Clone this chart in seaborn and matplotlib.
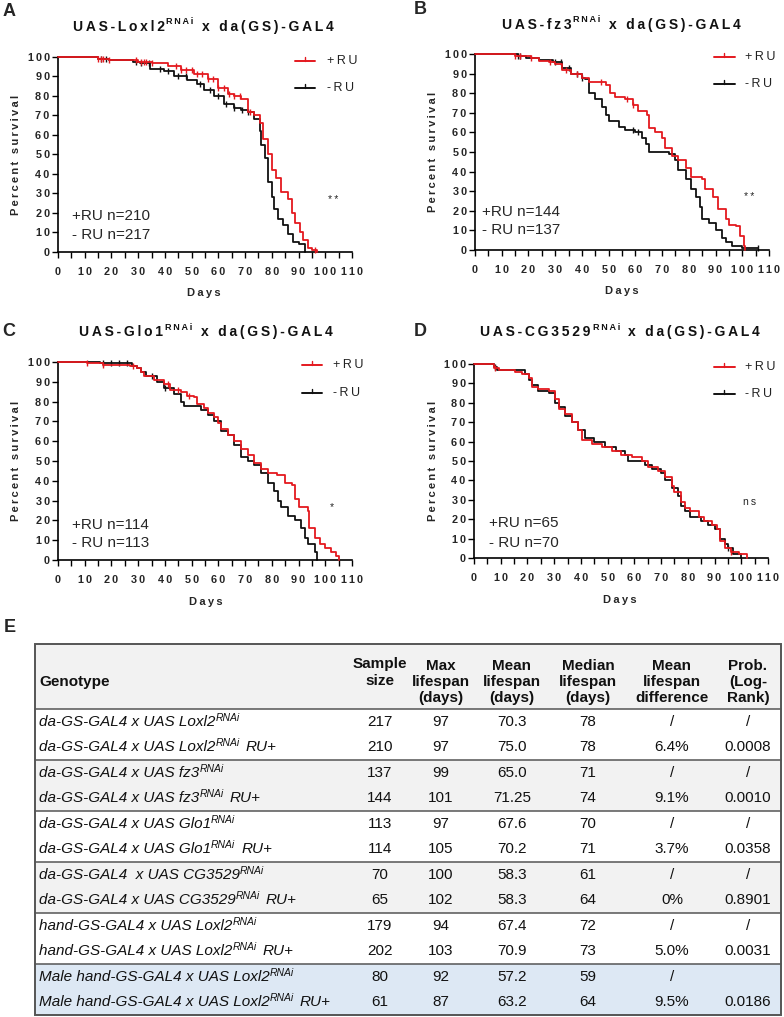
import numpy as np
import pandas as pd
import matplotlib
matplotlib.use('Agg')
import matplotlib.pyplot as plt
import seaborn as sns
from matplotlib.lines import Line2D
from matplotlib.patches import Rectangle

# ---------------- data ----------------
genes = ['Loxl2', 'fz3', 'Glo1', 'CG3529']
n_plus = [210, 144, 114, 65]
n_minus = [217, 137, 113, 70]
sig_labels = ['**', '**', '*', 'ns']

A_red_days = [0, 15, 19, 30, 35, 41, 46, 51, 56, 60, 63.5, 66, 68.5, 71, 73.5, 75.4, 76.7, 78.6, 80, 81.7, 83.6, 86, 87.4, 88.6, 90.5, 91.8, 93.7, 95, 97]
A_red_surv = [100, 99, 98.5, 97.5, 97, 95.5, 93.5, 91.5, 88.5, 84, 81, 80, 78.5, 72, 70, 66, 58, 50, 42, 38, 31, 27, 20, 15, 10, 6, 2, 1, 0]
A_black_days = [0, 15, 19, 28, 30.8, 34.6, 39.6, 43.4, 48.4, 52, 54.7, 58.5, 62, 66, 68.5, 71, 73.5, 75.4, 76, 77.3, 78.6, 80, 81, 82.3, 84, 86, 88, 90, 92.4]
A_black_surv = [100, 99, 98.5, 97.5, 97, 94, 93, 90, 88, 86, 83, 80, 76, 74, 73, 72, 68, 62, 55, 48, 36, 28, 22, 17, 14, 9, 5, 4, 0]
A_red_cens = [15, 16, 17, 19, 29, 31, 32, 33, 35, 44, 46, 48, 50, 52, 54, 56, 58, 60, 62, 64, 66, 68, 72, 96]
A_black_cens = [16, 18, 29, 31, 34, 38, 41, 45, 48, 53, 57, 60, 63, 66, 69, 71]

B_red_days = [0, 15, 21, 24, 27.5, 30, 32.5, 36, 40, 42.5, 49, 50.6, 52.5, 56, 59, 61, 64.4, 65, 67.5, 70, 71, 73.7, 76, 79, 81, 85, 86, 89, 91, 94, 95, 97.5, 99, 100.5, 101]
B_red_surv = [100, 99, 98, 96.5, 96, 95, 92, 90, 88, 85.5, 84, 80, 78, 77, 74, 71, 69, 62, 60, 57, 52, 48, 46, 42, 37, 36, 31, 27, 21, 16, 13, 12, 7, 2, 0]
B_black_days = [0, 16, 19, 24, 29, 32.5, 36, 40, 41, 42.5, 45, 47.5, 49, 50, 54, 56, 60, 62.5, 64, 65, 72.5, 75, 76, 79, 81, 82.5, 84, 85, 87.5, 90, 92.5, 94, 96, 100, 106]
B_black_surv = [100, 99, 98, 97, 96, 93, 90, 88, 87, 80, 77, 73, 69, 66, 63, 61, 60, 57, 54, 50, 49, 46, 41, 36, 31, 27, 22, 16, 14, 10, 6, 4, 2, 0.8, 0.8]
B_red_cens = [15, 17, 21, 28, 34, 38, 47, 57, 59]
B_black_cens = [16, 17, 30, 32, 35, 38, 40, 59, 61, 106]

C_red_days = [0, 10.7, 17, 27, 29.5, 31, 32, 36, 39.6, 42, 46, 48.4, 51, 52, 54.7, 56, 58.5, 60, 61, 63.5, 66, 68.5, 71, 73.5, 76, 78.6, 82, 85, 87.4, 88.6, 90, 93.6, 94, 96, 98, 100, 102, 104, 105]
C_red_surv = [100, 99.3, 98.5, 98, 97, 95, 93, 91, 89, 86, 85, 83, 82.5, 79, 77, 74, 72, 69, 66, 63, 60, 56, 53, 49, 46, 44, 43, 39, 38, 31, 27, 25, 16, 11, 8, 6, 4, 2, 0]
C_black_days = [0, 15.7, 27.7, 29.5, 31, 33, 37, 39.6, 43.4, 46, 47, 53.4, 56, 58.5, 61, 63.5, 66, 68.5, 71, 73.5, 76, 78.6, 81, 82.3, 83.6, 86, 88.6, 91, 92.4, 93.6, 96, 97]
C_black_surv = [100, 99.3, 98, 97, 95, 93, 90, 87, 84, 80, 78, 76, 73, 70, 65, 63, 58, 52, 50, 48, 44, 39, 35, 30, 27, 22, 20, 16, 11, 8, 4, 0]
C_red_cens = [11, 17, 28, 41, 45, 49]
C_black_cens = [17, 20, 23, 26, 35, 40]

D_red_days = [0, 7.5, 9.3, 15.5, 18, 20.5, 21.7, 24, 28, 30.4, 31.7, 34, 36.6, 39, 40.4, 44, 48, 51.5, 55, 59, 62.7, 65, 69, 71.4, 74, 75, 77.6, 79, 81, 84, 86, 89, 91, 92, 94, 96, 99, 102]
D_red_surv = [100, 98, 97, 96, 95, 93, 88, 87, 86, 82, 77, 74, 70, 66, 61, 59, 57, 55, 53, 52, 50, 47, 45, 42, 37, 34, 29, 26, 24, 21, 19, 17, 15, 9, 5, 3, 2, 0]
D_black_days = [0, 7.5, 8.7, 19, 20.5, 21.7, 24, 28, 30.4, 31.7, 34, 36.6, 39, 41.6, 45, 49, 53, 56.5, 57.8, 64, 66.5, 70, 71.4, 74, 76.4, 77.6, 79, 81, 85, 87.6, 90, 92, 94, 95, 97, 100]
D_black_surv = [100, 98.5, 97, 95, 92, 89, 86, 85, 80, 78, 73, 70, 66, 62, 60, 57, 55, 53, 50, 48, 46, 44, 40, 36, 32, 27, 24, 21, 19, 17, 15, 10, 7, 5, 2, 0]
D_red_cens = [8, 96]
D_black_cens = [8, 95]

x_ticks = list(range(0, 111, 10))
y_ticks = list(range(0, 101, 10))

# table data
tbl_head = ['Sample\nsize', 'Max\nlifespan\n(days)', 'Mean\nlifespan\n(days)', 'Median\nlifespan\n(days)',
            'Mean\nlifespan\ndifference', 'Prob.\n(Log-\nRank)']
row_prefix = ['da-GS-GAL4 x UAS Loxl2', 'da-GS-GAL4 x UAS Loxl2', 'da-GS-GAL4 x UAS fz3', 'da-GS-GAL4 x UAS fz3',
              'da-GS-GAL4 x UAS Glo1', 'da-GS-GAL4 x UAS Glo1', 'da-GS-GAL4  x UAS CG3529', 'da-GS-GAL4 x UAS CG3529',
              'hand-GS-GAL4 x UAS Loxl2', 'hand-GS-GAL4 x UAS Loxl2', 'Male hand-GS-GAL4 x UAS Loxl2',
              'Male hand-GS-GAL4 x UAS Loxl2']
row_suffix = ['', 'RU+', '', 'RU+', '', 'RU+', '', 'RU+', '', 'RU+', '', 'RU+']
col_sample = ['217', '210', '137', '144', '113', '114', '70', '65', '179', '202', '80', '61']
col_max = ['97', '97', '99', '101', '97', '105', '100', '102', '94', '103', '92', '87']
col_mean = ['70.3', '75.0', '65.0', '71.25', '67.6', '70.2', '58.3', '58.3', '67.4', '70.9', '57.2', '63.2']
col_median = ['78', '78', '71', '74', '70', '71', '61', '64', '72', '73', '59', '64']
col_diff = ['/', '6.4%', '/', '9.1%', '/', '3.7%', '/', '0%', '/', '5.0%', '/', '9.5%']
col_prob = ['/', '0.0008', '/', '0.0010', '/', '0.0358', '/', '0.8901', '/', '0.0031', '', '0.0186']
group_colors = ['white', '#f2f2f2', 'white', '#f2f2f2', 'white', '#dde8f4']

# ---------------- style ----------------
sns.set_theme(style='ticks')
plt.rcParams['font.family'] = ['Liberation Sans', 'DejaVu Sans']
plt.rcParams['mathtext.fontset'] = 'custom'
plt.rcParams['mathtext.rm'] = 'Liberation Sans'
plt.rcParams['mathtext.it'] = 'Liberation Sans:italic'
plt.rcParams['mathtext.bf'] = 'Liberation Sans:bold'

RED = '#e4191f'
BLK = '#111111'
W, H = 784, 1017
fig = plt.figure(figsize=(W / 100, H / 100), dpi=100)
fig.patch.set_facecolor('white')

ov = fig.add_axes([0, 0, 1, 1])
ov.set_xlim(0, W)
ov.set_ylim(H, 0)
ov.axis('off')
ov.patch.set_visible(False)
renderer = fig.canvas.get_renderer()

TS = '\u2009'


def sp(s):
    return TS.join(s)


def rich(x, y, parts, ha='left'):
    """parts: list of (text, kwargs, dy, gap_before)"""
    objs = []
    widths = []
    for txt, kw, dy, gap in parts:
        t = ov.text(0, y + dy, txt, va='center', ha='left', **kw)
        widths.append(t.get_window_extent(renderer).width)
        objs.append(t)
    total = sum(widths) + sum(p[3] for p in parts)
    cur = x if ha == 'left' else x - total / 2
    for t, w, p in zip(objs, widths, parts):
        cur += p[3]
        t.set_x(cur)
        cur += w


def step_lookup(days, surv, cd):
    days = np.asarray(days)
    surv = np.asarray(surv)
    idx = np.searchsorted(days, cd, side='right') - 1
    return surv[np.clip(idx, 0, len(surv) - 1)]


layouts = [
    dict(left=58, top=57, bot=252, letter=(9, 11), title=(203, 27), leg=(295, 315, 61, 88, 327),
         n=(72, 216, 235), sig=(333, 200), ylab=16, days=(204, 293)),
    dict(left=475, top=54, bot=250, letter=(420, 10), title=(621, 25), leg=(714, 735, 57, 84, 745),
         n=(482, 212, 230), sig=(749, 197), ylab=433, days=(622, 291)),
    dict(left=58, top=362, bot=560, letter=(9, 331), title=(206, 332), leg=(302, 322, 365, 393, 333),
         n=(72, 525, 543), sig=(332, 507), ylab=16, days=(206, 602)),
    dict(left=474, top=364, bot=558, letter=(420, 331), title=(620, 332), leg=(714, 735, 367, 394, 745),
         n=(489, 523, 543), sig=(750, 502), ylab=433, days=(620, 600)),
]
curves = [
    (A_red_days, A_red_surv, A_red_cens, A_black_days, A_black_surv, A_black_cens),
    (B_red_days, B_red_surv, B_red_cens, B_black_days, B_black_surv, B_black_cens),
    (C_red_days, C_red_surv, C_red_cens, C_black_days, C_black_surv, C_black_cens),
    (D_red_days, D_red_surv, D_red_cens, D_black_days, D_black_surv, D_black_cens),
]
letters = ['A', 'B', 'C', 'D']

bold_t = dict(fontsize=10, fontweight='bold', color='#111111')
bold_s = dict(fontsize=6.5, fontweight='bold', color='#111111')

for i, (L, C) in enumerate(zip(layouts, curves)):
    ax = fig.add_axes([L['left'] / W, 1 - L['bot'] / H, 294 / W, (L['bot'] - L['top']) / H])
    rd, rs, rc, bd, bs, bc = C
    for d, s, cc, col, z in [(bd, bs, bc, BLK, 2), (rd, rs, rc, RED, 3)]:
        df = pd.DataFrame({'day': d, 'surv': s})
        sns.lineplot(data=df, x='day', y='surv', ax=ax, color=col, lw=1.3, drawstyle='steps-post',
                     estimator=None, sort=False, clip_on=False, zorder=z)
        if len(cc):
            cdf = pd.DataFrame({'day': cc, 'surv': step_lookup(d, s, cc)})
            sns.scatterplot(data=cdf, x='day', y='surv', ax=ax, marker='|', s=18, color=col,
                            linewidth=1.0, clip_on=False, zorder=z)
    ax.set_xlim(0, 110)
    ax.set_ylim(0, 100)
    sns.despine(ax=ax)
    ax.set_xlabel('')
    ax.set_ylabel('')
    ax.set_xticks(x_ticks)
    ax.set_xticklabels([sp(str(v)) for v in x_ticks], fontsize=7.8, fontweight='bold')
    ax.set_xticks([v + 5 for v in x_ticks[:-1]], minor=True)
    ax.set_yticks(y_ticks)
    ax.set_yticklabels([sp(str(v)) for v in y_ticks], fontsize=7.8, fontweight='bold')
    ax.tick_params(which='both', direction='out', length=4, width=1.0, color='black')
    ax.tick_params(axis='x', pad=7)
    ax.tick_params(axis='y', pad=2)
    for sname in ['left', 'bottom']:
        ax.spines[sname].set_linewidth(1.2)
        ax.spines[sname].set_color('black')
    ax.patch.set_visible(False)

    ov.text(L['letter'][0], L['letter'][1], letters[i], fontsize=13, fontweight='bold', ha='center', va='center')
    tx, ty = L['title']
    rich(tx, ty, [(sp('UAS-' + genes[i]), bold_t, 0, 0),
                  (sp('RNAi'), bold_s, -5, 2),
                  (sp('x da(GS)-GAL4'), bold_t, 0, 8)], ha='center')
    x0, x1, yr, yb, xt = L['leg']
    for yy, col, lab in [(yr, RED, '+RU'), (yb, BLK, '-RU')]:
        ov.add_line(Line2D([x0, x1], [yy, yy], color=col, lw=1.4))
        ov.add_line(Line2D([(x0 + x1) / 2] * 2, [yy, yy - 4], color=col, lw=1.0))
        ov.text(xt, yy, sp(lab), fontsize=9, ha='left', va='center', color='#222222')
    nx, ny1, ny2 = L['n']
    ov.text(nx, ny1, '+RU n=%d' % n_plus[i], fontsize=11, ha='left', va='center')
    ov.text(nx, ny2, '- RU n=%d' % n_minus[i], fontsize=11, ha='left', va='center')
    ov.text(L['sig'][0], L['sig'][1], sp(sig_labels[i]), fontsize=7.5, ha='center', va='center')
    ov.text(L['ylab'], (L['top'] + L['bot']) / 2, sp('Percent survival'), fontsize=8, fontweight='bold',
            rotation=90, ha='center', va='center')
    ov.text(L['days'][0], L['days'][1], sp('Days'), fontsize=8, fontweight='bold', ha='center', va='center')

# ---------------- table (panel E) ----------------
ov.text(10, 627, 'E', fontsize=13, fontweight='bold', ha='center', va='center')
TL, TR, TT, HB = 35, 781, 644, 709
GH = 51
TB = HB + 6 * GH
ov.add_patch(Rectangle((TL, TT), TR - TL, HB - TT, facecolor='#f2f2f2', edgecolor='none'))
for g in range(6):
    ov.add_patch(Rectangle((TL, HB + g * GH), TR - TL, GH, facecolor=group_colors[g], edgecolor='none'))
for yy in [HB + g * GH for g in range(6)]:
    ov.add_line(Line2D([TL, TR], [yy, yy], color='#555555', lw=1.1))
ov.add_patch(Rectangle((TL, TT), TR - TL, TB - TT, facecolor='none', edgecolor='#555555', lw=1.4))

tfont = dict(fontsize=11, color='#111111')
col_x = [380, 441, 512, 588, 672, 748]
ov.text(39, 682, 'Genotype', fontweight='bold', ha='left', va='center', **tfont)
for cx, h in zip(col_x, tbl_head):
    nl = h.count('\n') + 1
    cy = 672.5 if nl == 2 else 682
    ov.text(cx, cy, h, fontweight='bold', ha='center', va='center', linespacing=1.2, **tfont)

for r in range(12):
    g = r // 2
    yy = HB + g * GH + (13 if r % 2 == 0 else 38)
    parts = [(row_prefix[r], dict(fontstyle='italic', **tfont), 0, 0),
             ('RNAi', dict(fontstyle='italic', fontsize=7.5, color='#111111'), -4, 0)]
    if row_suffix[r]:
        parts.append((row_suffix[r], dict(fontstyle='italic', **tfont), 0, 6))
    rich(39, yy, parts, ha='left')
    for cx, col in zip(col_x, [col_sample, col_max, col_mean, col_median, col_diff, col_prob]):
        ov.text(cx, yy, col[r], ha='center', va='center', **tfont)

fig.savefig('out.png', dpi=100, facecolor='white')
